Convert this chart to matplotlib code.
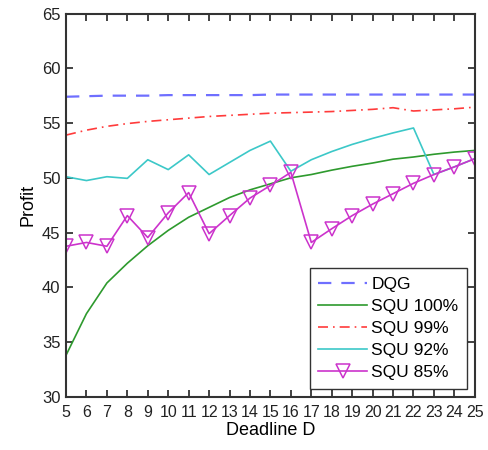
import matplotlib
matplotlib.use("Agg")
import matplotlib.pyplot as plt

plt.rcParams['font.family'] = ['Liberation Sans', 'DejaVu Sans']

deadline = list(range(5, 26))
dqg = [57.4, 57.45, 57.5, 57.5, 57.5, 57.55, 57.55, 57.55, 57.55, 57.55, 57.6,
       57.6, 57.6, 57.6, 57.6, 57.6, 57.6, 57.6, 57.6, 57.6, 57.6]
squ100 = [33.8, 37.6, 40.4, 42.2, 43.8, 45.2, 46.4, 47.3, 48.2, 48.9, 49.45,
          50.0, 50.3, 50.7, 51.05, 51.35, 51.7, 51.9, 52.15, 52.35, 52.5]
squ99 = [53.9, 54.35, 54.7, 54.95, 55.15, 55.3, 55.45, 55.6, 55.7, 55.8, 55.9,
         55.95, 56.0, 56.05, 56.15, 56.25, 56.4, 56.1, 56.2, 56.3, 56.45]
squ92 = [50.1, 49.75, 50.1, 49.95, 51.65, 50.75, 52.1, 50.3, 51.4, 52.5, 53.35,
         50.6, 51.65, 52.4, 53.05, 53.6, 54.1, 54.55, 50.3, 51.0, 51.75]
squ85 = [43.75, 44.1, 43.75, 46.55, 44.55, 46.8, 48.65, 44.9, 46.55, 48.15, 49.3,
         50.5, 44.1, 45.35, 46.55, 47.6, 48.55, 49.5, 50.3, 51.0, 51.75]

fig = plt.figure(figsize=(4.89, 4.5), dpi=100)
ax = fig.add_axes([0.135, 0.118, 0.836, 0.852])

ax.plot(deadline, dqg, linestyle=(0, (6, 4.5)), color='#6f6fff', lw=1.6, label='DQG')
ax.plot(deadline, squ100, '-', color='#2e9a2e', lw=1.2, label='SQU 100%')
ax.plot(deadline, squ99, linestyle=(0, (6, 3, 1, 3)), color='#ff3b3b', lw=1.2, label='SQU 99%')
ax.plot(deadline, squ92, '-', color='#3cc8c8', lw=1.2, label='SQU 92%')
ax.plot(deadline, squ85, '-', color='#cc33cc', lw=1.2, marker='v', markersize=9.5,
        markerfacecolor='none', markeredgecolor='#cc33cc', markeredgewidth=1.1, label='SQU 85%')

ax.set_xlim(5, 25)
ax.set_ylim(30, 65)
ax.set_xticks(deadline)
ax.set_yticks(range(30, 66, 5))
ax.tick_params(axis='both', direction='in', top=True, right=True, length=5, width=1.2,
               labelsize=12, colors='#222222', pad=4)
ax.tick_params(axis='x', pad=6)
for lbl in ax.get_xticklabels():
    lbl.set_fontsize(11.5)
for s in ax.spines.values():
    s.set_color('#333333')
    s.set_linewidth(1.5)

ax.set_xlabel('Deadline D', fontsize=13, labelpad=1)
ax.set_ylabel('Profit', fontsize=13, labelpad=4)

leg = ax.legend(loc='lower right', fontsize=12.5, frameon=True, fancybox=False,
                handlelength=2.8, handletextpad=0.25, borderpad=0.5, labelspacing=0.4,
                borderaxespad=0.45)
leg.get_frame().set_edgecolor('black')
leg.get_frame().set_linewidth(1.0)

fig.savefig('out.png', dpi=100)
